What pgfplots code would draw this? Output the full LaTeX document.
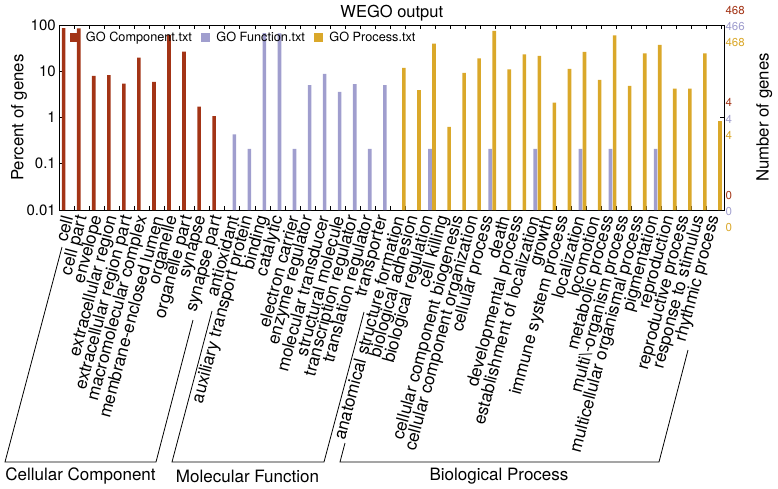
\documentclass[border=0pt]{standalone}
\usepackage{pgfplots}
\pgfplotsset{compat=1.18}
\usepackage{fontspec}
\setmainfont{TeX Gyre Heros}
\definecolor{cc}{RGB}{163,52,22}
\definecolor{mf}{RGB}{160,158,206}
\definecolor{bp}{RGB}{218,168,42}
\begin{document}
\begin{tikzpicture}
\begin{axis}[
  name=ax,
  scale only axis, width=665pt, height=185pt,
  xmin=0, xmax=44.19,
  ymode=log, ymin=0.01, ymax=100, log origin=infty,
  ytick={0.01,0.1,1,10,100}, yticklabels={0.01,0.1,1,10,100},
  yminorticks=false, ytick pos=left,
  yticklabel style={font=\fontsize{15}{17}\selectfont},
  xtick={0,...,44},
  major tick length=4pt,
  tick align=inside,
  axis line style={line width=0.9pt},
  every tick/.style={black, line width=0.8pt},
  xticklabels={cell, cell part, envelope, extracellular region, extracellular region part, macromolecular complex, membrane-enclosed lumen, organelle, organelle part, synapse, synapse part, antioxidant, auxiliary transport protein, binding, catalytic, electron carrier, enzyme regulator, molecular transducer, structural molecule, transcription regulator, translation regulator, transporter, anatomical structure formation, biological adhesion, biological regulation, cell killing, cellular component biogenesis, cellular component organization, cellular process, death, developmental process, establishment of localization, growth, immune system process, localization, locomotion, metabolic process, multi\textbackslash-organism process, multicellular organismal process, pigmentation, reproduction, reproductive process, response to stimulus, rhythmic process, {}},
  xticklabel style={xshift=8.3pt, yshift=-6pt, rotate=75, anchor=east, inner sep=0pt, font=\fontsize{17.2}{19}\selectfont},
  ylabel={Percent of genes},
  ylabel style={at={(axis description cs:-0.0606,0.5)}, anchor=center, font=\fontsize{16.8}{19}\selectfont},
  title={WEGO output},
  every axis title shift=0pt,
  title style={at={(axis description cs:0.5,1.0649)}, anchor=center, yshift=0pt, font=\fontsize{16.5}{19}\selectfont},
  legend columns=3,
  legend style={at={(axis description cs:0,1)}, anchor=north west, xshift=8pt, yshift=-3pt, draw=none, fill=none,
    font=\fontsize{12.7}{14}\selectfont,
    /tikz/every odd column/.append style={column sep=4pt},
    /tikz/every even column/.append style={column sep=7pt}},
]
\addplot[ybar, bar width=0.24, bar shift=0.29, fill=cc, draw=none,
  legend image code/.code={\fill[cc] (0pt,-4.5pt) rectangle (9.5pt,5pt);}]
  coordinates {(0,86) (1,85) (2,7.9) (3,8.2) (4,5.4) (5,19.6) (6,5.9) (7,61) (8,26.5) (9,1.71) (10,1.07)};
\addplot[ybar, bar width=0.24, bar shift=0.63, fill=mf, draw=none,
  legend image code/.code={\fill[mf] (0pt,-4.5pt) rectangle (9.5pt,5pt);}]
  coordinates {(11,0.43) (12,0.21) (13,67) (14,66) (15,0.21) (16,5.0) (17,8.8) (18,3.6) (19,5.3) (20,0.21) (21,5.0)
   (24,0.21) (28,0.21) (31,0.21) (34,0.21) (36,0.21) (39,0.21)};
\addplot[ybar, bar width=0.24, bar shift=0.90, fill=bp, draw=none,
  legend image code/.code={\fill[bp] (0pt,-4.5pt) rectangle (9.5pt,5pt);}]
  coordinates {(22,11.8) (23,3.9) (24,39.4) (25,0.63) (26,9.2) (27,19.1) (28,75) (29,11.0) (30,23.2) (31,21.4) (32,2.1)
   (33,11.2) (34,26.1) (35,6.5) (36,60) (37,4.8) (38,24.4) (39,37) (40,4.2) (41,4.2) (42,24.4) (43,0.84)};
\legend{GO Component.txt, GO Function.txt, GO Process.txt}
\end{axis}
\begin{axis}[
  at={(ax.south west)}, anchor=south west,
  scale only axis, width=665pt, height=185pt,
  xmin=0, xmax=44.19,
  ymode=log, ymin=0.01, ymax=100,
  axis y line*=right, axis x line=none,
  axis line style={line width=0.9pt},
  every tick/.style={black, line width=0.8pt},
  tick align=inside, major tick length=4pt,
  ytick={0.01,1,100}, yminorticks=false,
  yticklabels={{\textcolor{cc}{0}\\\textcolor{mf}{0}\\\textcolor{bp}{0}},
               {\textcolor{cc}{4}\\\textcolor{mf}{4}\\\textcolor{bp}{4}},
               {\textcolor{cc}{468}\\\textcolor{mf}{466}\\\textcolor{bp}{468}}},
  yticklabel style={anchor=west, align=left, inner sep=1pt, yshift=-1.5pt, font=\fontsize{11.5}{16.3}\selectfont},
  ylabel={Number of genes},
  ylabel style={at={(axis description cs:1.0602,0.5)}, anchor=center, font=\fontsize{16.8}{19}\selectfont},
]
\end{axis}
\coordinate (O) at ([xshift=-59.3pt,yshift=210pt]ax.south west);
\begin{scope}[shift={(O)}, x=1pt, y=-1pt]
  \draw[line width=0.8pt] (62,247) -- (5,462) -- (156,462) -- (193,320);
  \draw[line width=0.8pt] (212,311) -- (172,462) -- (324,462) -- (364,312);
  \draw[line width=0.8pt] (345,443) -- (340,462) -- (659,462) -- (688,350);
  \node[font=\fontsize{17}{20}\selectfont] at (80.5,476) {Cellular Component};
  \node[font=\fontsize{17}{20}\selectfont] at (247.5,476) {Molecular Function};
  \node[font=\fontsize{17}{20}\selectfont] at (499,476) {Biological Process};
\end{scope}
\pgfresetboundingbox
\path[use as bounding box] (O) rectangle ++(778pt,-488pt);
\end{tikzpicture}
\end{document}
